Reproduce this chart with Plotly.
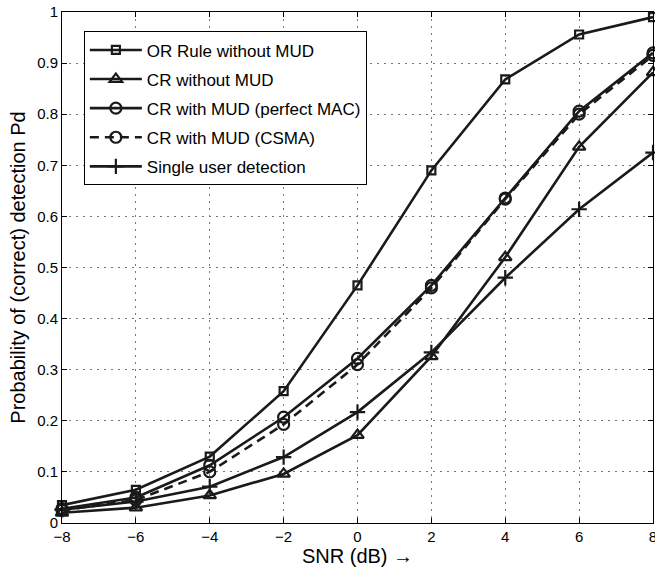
import plotly.graph_objects as go

snr = [-8, -6, -4, -2, 0, 2, 4, 6, 8]
or_rule = [0.035, 0.065, 0.13, 0.258, 0.465, 0.69, 0.868, 0.956, 0.99]
cr_no_mud = [0.02, 0.03, 0.054, 0.096, 0.172, 0.326, 0.52, 0.736, 0.882]
cr_mud_mac = [0.028, 0.05, 0.113, 0.207, 0.322, 0.465, 0.636, 0.806, 0.92]
cr_mud_csma = [0.025, 0.045, 0.1, 0.193, 0.31, 0.46, 0.634, 0.8, 0.915]
single_user = [0.026, 0.042, 0.071, 0.129, 0.217, 0.334, 0.48, 0.614, 0.725]

names = ["OR Rule without MUD", "CR without MUD", "CR with MUD (perfect MAC)",
         "CR with MUD (CSMA)", "Single user detection"]

fig = go.Figure()
specs = [
    (or_rule, "square-open", 8, "solid"),
    (cr_no_mud, "triangle-up-open", 11, "solid"),
    (cr_mud_mac, "circle-open", 11, "solid"),
    (cr_mud_csma, "circle-open", 11, "9px,6px"),
    (single_user, "cross-thin", 11, "solid"),
]
for i, ((vals, sym, sz, dash), name) in enumerate(zip(specs, names)):
    fig.add_trace(go.Scatter(
        x=snr, y=vals, name=name, mode="lines+markers",
        legendgroup=f"g{i}",
        line=dict(color="#1a1a1a", width=2.6, dash=dash),
        marker=dict(symbol=sym, size=sz, color="#1a1a1a",
                    line=dict(color="#1a1a1a", width=2.2)),
        cliponaxis=False,
    ))

axis_common = dict(
    showline=True, linecolor="black", linewidth=1, mirror="ticks",
    ticks="inside", ticklen=5, tickcolor="black",
    showgrid=True, gridcolor="#777777", griddash="2px,5px", gridwidth=1,
    zeroline=False, tickfont=dict(size=15, color="black"),
    automargin=False, ticklabeloverflow="allow",
)
fig.update_xaxes(range=[-8, 8], tickvals=[-8, -6, -4, -2, 0, 2, 4, 6, 8],
                 title=dict(text="SNR (dB) \u2192", font=dict(size=20, color="black"), standoff=1),
                 **axis_common)
fig.update_yaxes(range=[0, 1], tickvals=[0, 0.1, 0.2, 0.3, 0.4, 0.5, 0.6, 0.7, 0.8, 0.9, 1],
                 title=dict(text="Probability of (correct) detection Pd", font=dict(size=20, color="black"), standoff=6),
                 **axis_common)

fig.update_layout(
    width=655, height=572,
    margin=dict(l=62, r=2, t=12, b=49),
    paper_bgcolor="white", plot_bgcolor="white",
    font=dict(family="Liberation Sans, Arial, Helvetica, sans-serif", color="black"),
    legend=dict(x=0.037, y=0.962, xanchor="left", yanchor="top",
                bgcolor="white", bordercolor="black", borderwidth=1,
                font=dict(size=17, color="black"), tracegroupgap=4,
                itemwidth=52),
    showlegend=True,
)

fig.write_html(
    "out.html",
    config={"displayModeBar": False},
    post_script="document.body.style.margin='0';document.body.style.overflow='hidden';",
)
